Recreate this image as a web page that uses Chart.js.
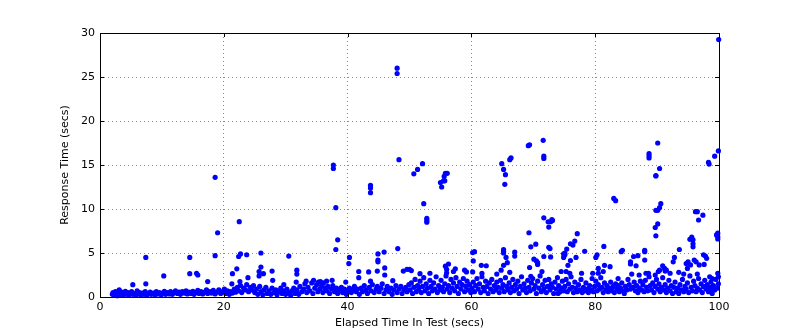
<!DOCTYPE html>
<html>
<head>
<meta charset="utf-8">
<script src="https://cdn.jsdelivr.net/npm/chart.js@4/dist/chart.umd.min.js"></script>
<style>
  body { margin: 0; background: #fff; }
</style>
</head>
<body>
<canvas id="myChart" width="800" height="330"></canvas>
<script>
// axis ticks
const xTicks = [0, 20, 40, 60, 80, 100];
const yTicks = [0, 5, 10, 15, 20, 25, 30];

// [elapsed time, response time] - the main band of quick responses
const quickRequests = [
  [2.0,0.3],[2.1,0.5],[2.3,0.2],[2.5,0.6],[2.6,0.35],[2.8,0.15],[3.0,0.45],[3.1,0.8],[3.3,0.3],[3.5,0.55],
  [3.7,0.2],[3.9,0.4],[4.1,0.65],[4.3,0.3],[4.5,0.5],[4.7,0.25],[4.9,0.45],[5.1,0.6],[5.3,0.3],[5.6,0.4],
  [5.8,0.2],[6.0,0.7],[6.2,0.35],[6.4,0.5],[6.6,0.25],[6.9,0.45],[7.1,0.3],[7.3,0.6],[7.6,0.2],[7.8,0.4],
  [8.1,0.55],[8.3,0.3],[8.6,0.45],[8.9,0.25],[9.1,0.6],[9.4,0.35],[9.6,0.5],[9.9,0.25],[10.1,0.45],[10.4,0.65],
  [10.6,0.3],[10.9,0.5],[11.2,0.35],[11.4,0.6],[11.7,0.3],[12.0,0.5],[12.2,0.7],[12.5,0.4],[12.8,0.55],[13.0,0.3],
  [13.3,0.6],[13.6,0.45],[13.9,0.7],[14.1,0.35],[14.4,0.55],[14.7,0.4],[15.0,0.65],[15.2,0.3],[15.5,0.5],[15.8,0.75],
  [16.0,0.4],[16.3,0.6],[16.6,0.35],[16.9,0.55],[17.2,0.8],[17.4,0.4],[17.7,0.6],[18.0,0.45],[18.3,0.75],[18.6,0.35],
  [18.9,0.55],[19.2,0.8],[19.5,0.4],[19.8,0.6],
  [20.1,0.9],[20.3,0.4],[20.6,0.7],[20.9,0.3],[21.1,0.6],[21.4,0.45],[21.7,0.9],[21.9,0.55],[22.2,1.1],[22.4,0.7],
  [22.7,1.3],[22.9,0.5],[23.2,1.0],[23.5,0.8],[23.7,1.4],[24.0,0.6],[24.3,1.1],[24.5,0.8],[24.8,1.3],[25.0,0.5],
  [25.3,0.9],[25.5,0.3],[25.8,1.2],[26.0,0.6],[26.3,0.25],[26.5,0.8],[26.8,1.1],[27.0,0.4],[27.3,0.7],[27.6,0.3],
  [27.8,1.0],[28.1,0.5],[28.4,0.8],[28.6,0.25],[28.9,0.6],[29.2,1.0],[29.4,0.4],[29.7,0.7],[30.0,0.3],[30.2,0.9],
  [30.5,0.5],[30.8,0.2],[31.0,0.7],[31.3,1.0],[31.5,0.4],[31.8,0.8],[32.1,0.3],[32.3,1.2],[32.6,0.6],[32.9,0.9],
  [33.1,1.5],[33.3,1.8],[33.4,0.5],[33.6,1.1],[33.9,0.7],[34.2,1.6],[34.4,0.4],[34.5,1.9],[34.7,1.0],[35.0,1.4],
  [35.2,0.6],[35.3,1.7],[35.5,0.9],[35.8,1.3],[36.0,0.5],[36.1,1.6],[36.3,1.0],[36.6,0.7],[36.8,1.2],[37.1,0.4],
  [37.4,0.9],[37.6,1.3],[37.9,0.6],[38.2,1.0],[38.4,0.4],[38.7,0.8],[39.0,1.1],[39.2,0.5],[39.5,0.9],[39.8,0.3],
  [40.0,0.7],[40.3,1.0],[40.6,0.5],[40.8,0.8],[41.1,1.2],[41.4,0.6],[41.6,0.9],[41.9,0.3],[42.2,1.0],[42.4,0.6],
  [42.7,1.3],[43.0,0.8],[43.2,0.4],[43.5,1.1],[43.8,0.7],[44.0,1.4],[44.3,0.5],[44.6,0.9],[44.8,1.2],[45.1,0.6],
  [45.4,1.0],[45.6,1.5],[45.9,0.4],[46.2,0.8],[46.4,1.2],[46.7,0.6],[47.0,1.0],[47.2,0.3],[47.5,0.8],[47.8,1.3],
  [48.0,0.5],[48.3,0.9],[48.6,1.2],[48.8,0.4],[49.1,0.8],[49.4,1.1],[49.6,0.6],[49.9,1.4],
  [50.1,0.8],[50.3,1.6],[50.5,0.4],[50.7,1.1],[50.9,2.0],[51.1,0.6],[51.3,1.3],[51.5,0.9],[51.7,1.8],[51.9,0.5],
  [52.1,1.2],[52.3,2.2],[52.5,0.7],[52.7,1.5],[52.9,1.0],[53.1,0.4],[53.3,1.9],[53.5,1.2],[53.7,0.7],[53.9,1.6],
  [54.1,0.9],[54.3,2.3],[54.5,0.5],[54.7,1.3],[54.9,0.8],[55.1,1.9],[55.3,1.1],[55.5,0.6],[55.7,1.5],[55.9,2.4],
  [56.1,0.9],[56.3,1.3],[56.5,0.5],[56.7,2.0],[56.9,1.0],[57.1,1.6],[57.3,0.7],[57.5,2.2],[57.7,1.2],[57.9,0.4],
  [58.1,1.7],[58.3,0.9],[58.5,1.4],[58.7,2.1],[58.9,0.6],[59.1,1.2],[59.3,1.8],[59.5,0.8],[59.7,1.4],[59.9,0.5],
  [60.1,1.0],[60.3,1.7],[60.5,0.6],[60.7,1.3],[60.9,2.1],[61.1,0.9],[61.3,1.5],[61.5,0.5],[61.7,2.3],[61.9,1.1],
  [62.1,0.7],[62.3,1.8],[62.5,1.2],[62.7,0.4],[62.9,1.6],[63.1,0.9],[63.3,2.0],[63.5,0.6],[63.7,1.3],[63.9,0.8],
  [64.1,1.7],[64.3,1.1],[64.5,0.5],[64.7,1.9],[64.9,1.0],[65.1,1.4],[65.3,0.6],[65.5,2.2],[65.7,1.2],[65.9,0.8],
  [66.1,1.6],[66.3,0.5],[66.5,1.1],[66.7,2.0],[66.9,0.7],[67.1,1.4],[67.3,0.9],[67.5,1.8],[67.7,0.4],[67.9,1.2],
  [68.1,2.3],[68.3,0.8],[68.5,1.5],[68.7,1.0],[68.9,0.5],[69.1,1.9],[69.3,1.1],[69.5,0.7],[69.7,1.6],[69.9,2.1],
  [70.1,0.9],[70.3,1.3],[70.5,0.4],[70.7,1.8],[70.9,1.0],[71.1,2.4],[71.3,0.6],[71.5,1.4],[71.7,0.9],[71.9,1.9],
  [72.1,0.5],[72.3,1.2],[72.5,2.0],[72.7,0.8],[72.9,1.5],[73.1,1.1],[73.3,0.4],[73.5,1.7],[73.7,0.9],[73.9,2.2],
  [74.1,1.3],[74.3,0.6],[74.5,1.0],[74.7,1.8],[74.9,0.7],
  [75.1,1.2],[75.3,2.0],[75.5,0.6],[75.7,1.5],[75.9,0.9],[76.1,2.3],[76.3,1.1],[76.5,0.5],[76.7,1.7],[76.9,1.0],
  [77.1,0.6],[77.3,1.4],[77.5,0.8],[77.7,2.0],[77.9,0.5],[78.1,1.1],[78.3,0.7],[78.5,1.6],[78.7,0.9],[78.9,0.5],
  [79.1,1.3],[79.3,0.8],[79.5,2.1],[79.7,0.6],[79.9,1.2],[80.1,1.8],[80.3,0.7],[80.5,1.4],[80.7,0.9],[80.9,2.2],
  [81.1,1.1],[81.3,0.5],[81.5,1.6],[81.7,0.8],[81.9,1.3],[82.1,0.6],[82.3,1.0],[82.5,1.7],[82.7,0.7],[82.9,1.2],
  [83.1,0.5],[83.3,1.5],[83.5,0.9],[83.7,1.3],[83.9,0.6],[84.1,1.0],[84.3,1.6],[84.5,0.7],[84.7,0.4],[84.9,1.2],
  [85.1,0.8],[85.3,2.0],[85.5,1.4],[85.7,0.9],[85.9,2.6],[86.1,1.1],[86.3,1.7],[86.5,0.7],[86.7,1.3],[86.9,0.5],
  [87.1,1.0],[87.3,1.8],[87.5,0.8],[87.7,1.4],[87.9,0.6],[88.1,1.9],[88.3,1.1],[88.5,0.7],[88.7,2.3],[88.9,1.3],
  [89.1,0.8],[89.3,1.6],[89.5,0.5],[89.7,1.2],[89.9,2.0],[90.1,0.9],[90.3,1.5],[90.5,0.6],[90.7,1.1],[90.9,2.2],
  [91.1,0.8],[91.3,1.4],[91.5,0.5],[91.7,1.0],[91.9,1.9],[92.1,0.7],[92.3,1.3],[92.5,0.4],[92.7,1.1],[92.9,1.7],
  [93.1,0.6],[93.3,1.0],[93.5,0.4],[93.7,1.4],[93.9,0.8],[94.1,2.0],[94.3,0.6],[94.5,1.2],[94.7,0.9],[94.9,1.6],
  [95.1,0.5],[95.3,2.4],[95.5,1.1],[95.7,0.7],[95.9,1.8],[96.1,1.3],[96.3,0.6],[96.5,1.0],[96.7,2.1],[96.9,0.8],
  [97.1,1.5],[97.3,0.5],[97.5,1.2],[97.7,1.9],[97.9,0.9],[98.1,1.4],[98.3,0.6],[98.5,1.1],[98.7,1.7],[98.9,0.4],
  [99.1,1.3],[99.3,0.8],[99.5,2.0],[99.7,1.0],[99.9,1.5]
];

// [elapsed time, response time] - slower responses above the band
const slowRequests = [
  [5.3,1.4],[7.4,1.5],[7.4,4.5],[10.3,2.4],[14.5,2.65],[14.5,4.5],[15.6,2.7],[15.8,2.5],[17.4,1.75],[18.6,4.7],
  [18.6,13.6],[19.0,7.3],[21.3,1.5],[21.4,2.65],[22.1,3.2],[22.4,4.6],[22.5,8.56],[22.6,1.75],[22.7,4.9],[23.7,4.8],
  [23.9,2.2],[25.7,2.9],[25.7,2.4],[26.0,3.4],[26.0,5.0],[26.4,2.65],[27.8,2.95],[27.9,1.9],[29.7,1.4],[30.5,4.65],
  [31.7,1.7],[31.8,3.05],[31.8,2.6],[35.6,1.75],[36.6,1.8],[37.5,1.9],[37.7,15.0],[37.7,14.6],[38.1,10.15],[38.1,5.4],
  [38.4,6.5],[39.7,1.7],[40.2,3.8],[40.3,4.5],[41.8,2.9],[41.8,2.2],[43.4,2.85],[43.7,12.7],[43.7,12.4],[43.7,11.85],
  [43.7,1.8],[44.8,2.95],[44.9,4.9],[44.9,4.2],[44.9,4.0],[45.9,5.1],[46.0,3.3],[46.0,2.5],[47.3,1.85],[48.0,26.0],
  [48.0,25.4],[48.1,5.5],[48.3,15.6],[49.0,2.95],[49.6,3.15],
  [50.0,3.15],[50.3,3.0],[50.7,14.0],[51.3,14.5],[51.7,2.65],[52.1,15.15],[52.3,10.6],[52.8,8.95],[52.8,8.7],[52.8,8.5],
  [53.3,2.7],[55.0,13.0],[55.2,12.5],[55.5,13.2],[55.7,13.2],[55.6,13.7],[55.8,14.05],[56.1,14.05],[55.8,3.5],[56.0,3.15],
  [56.0,2.75],[56.3,3.75],[57.1,2.9],[57.4,3.2],[58.9,3.05],[59.2,2.85],[60.2,2.85],[60.2,5.05],[60.3,4.1],[60.5,5.15],
  [61.6,3.6],[61.7,2.7],[62.4,3.55],[64.1,2.6],[64.8,3.05],[64.9,15.15],[65.2,14.5],[65.4,12.8],[65.5,13.9],[65.2,5.2],
  [65.2,5.4],[65.2,5.0],[65.2,3.6],[65.6,4.5],[65.8,3.9],[66.2,2.8],[66.2,15.6],[66.4,15.8],[67.0,5.1],[67.0,4.65],
  [69.2,17.2],[69.4,17.3],[69.3,7.3],[69.4,3.35],[69.6,2.35],[69.6,5.7],[70.1,4.3],[70.4,6.0],[70.5,4.1],[70.7,3.9],
  [70.7,3.7],[71.4,2.9],[71.6,17.8],[71.7,16.0],[71.7,15.75],[71.7,9.0],[71.7,4.6],[72.4,8.55],[72.5,7.95],[72.5,5.65],
  [72.7,5.5],[72.8,8.55],[72.8,4.55],[73.0,8.8],[73.1,8.7],[74.0,0.4],[74.3,0.6],[74.5,2.9],[74.9,4.9],[74.9,4.5],
  [75.1,5.0],[75.1,4.8],[75.3,2.9],[75.4,5.45],[75.6,3.6],[75.9,2.7],[76.0,6.05],[76.0,4.15],[76.4,5.9],[76.7,6.35],
  [76.9,4.5],[77.1,7.2],[77.8,2.7],[78.3,5.2],[79.6,2.7],[80.1,4.5],[80.3,4.8],[80.5,3.25],[80.5,2.7],[81.3,2.9],
  [81.4,5.75],[81.5,3.6],[82.4,3.45],[83.0,11.2],[83.3,10.95],[83.7,2.1],[84.2,5.15],[84.4,5.3],[85.7,4.0],[85.7,3.75],
  [86.2,4.6],[86.6,3.55],[86.9,4.7],[87.1,2.5],[88.0,5.3],[88.0,5.15],[88.0,4.2],[88.2,2.7],[88.6,2.7],[88.7,16.3],
  [88.7,16.05],[88.7,15.8],[89.7,2.5],[89.7,7.9],[89.8,13.8],[89.8,13.75],[89.8,9.85],[89.8,6.95],[90.1,17.5],[90.1,9.85],
  [90.1,8.3],[90.2,2.9],[90.4,14.6],[90.4,10.15],[90.4,3.05],[90.6,10.6],[90.9,3.55],[91.2,3.25],[91.3,2.95],[91.5,3.05],
  [92.1,2.7],[92.6,4.0],[92.8,4.5],[93.5,2.8],[93.6,5.4],[94.3,2.6],[94.7,3.8],[94.9,3.25],[95.0,4.0],[95.3,6.55],
  [95.4,3.65],[95.6,6.8],[95.8,6.05],[95.8,5.7],[95.8,6.5],[96.0,4.2],[96.2,9.7],[96.3,4.0],[96.5,9.7],[96.5,2.6],
  [96.7,8.75],[96.8,3.65],[97.4,9.3],[97.5,4.8],[97.6,3.7],[97.8,4.65],[98.0,4.4],[98.3,15.3],[98.4,15.1],[98.5,2.3],
  [98.9,2.1],[98.9,0.7],[99.2,1.0],[99.3,16.0],[99.6,7.05],[99.8,7.25],[99.8,6.85],[99.8,6.6],[99.8,2.7],[99.9,2.3],
  [99.9,16.6],[99.95,29.25]
];

const points = quickRequests.concat(slowRequests).map(p => ({ x: p[0], y: p[1] }));

Chart.defaults.font.family = "'DejaVu Sans', sans-serif";
Chart.defaults.font.size = 11;
Chart.defaults.color = "#000";

// matplotlib style frame with ticks pointing inwards
const framePlugin = {
  id: "frame",
  afterDatasetsDraw(chart) {
    const ctx = chart.ctx;
    const a = chart.chartArea;
    const xs = chart.scales.x;
    const ys = chart.scales.y;
    ctx.save();
    ctx.strokeStyle = "#000";
    ctx.lineWidth = 1;
    ctx.beginPath();
    xTicks.forEach(v => {
      const px = Math.round(xs.getPixelForValue(v)) + 0.5;
      ctx.moveTo(px, a.bottom);
      ctx.lineTo(px, a.bottom - 4);
      ctx.moveTo(px, a.top);
      ctx.lineTo(px, a.top + 4);
    });
    yTicks.forEach(v => {
      const py = Math.round(ys.getPixelForValue(v)) + 0.5;
      ctx.moveTo(a.left, py);
      ctx.lineTo(a.left + 4, py);
      ctx.moveTo(a.right, py);
      ctx.lineTo(a.right - 4, py);
    });
    ctx.stroke();
    ctx.strokeRect(a.left + 0.5, a.top + 0.5, a.right - a.left, a.bottom - a.top);
    ctx.restore();
  },
};

const config = {
  type: "scatter",
  data: {
    datasets: [
      {
        label: "Response Time",
        data: points,
        backgroundColor: "#0000ff",
        borderColor: "#0000ff",
        borderWidth: 0,
        pointRadius: 2.6,
        clip: 4,
      },
    ],
  },
  options: {
    responsive: false,
    animation: false,
    layout: {
      padding: { top: 33, right: 81, left: 0, bottom: 0 },
    },
    plugins: {
      legend: { display: false },
      tooltip: { enabled: false },
    },
    scales: {
      x: {
        type: "linear",
        min: 0,
        max: 100,
        afterFit(scale) {
          scale.height = 33;
        },
        afterBuildTicks(scale) {
          scale.ticks = xTicks.map(v => ({ value: v }));
        },
        grid: { color: "#8a8a8a", drawTicks: false },
        border: { display: false, dash: [1, 3] },
        ticks: { padding: 4, maxRotation: 0 },
        title: {
          display: true,
          text: "Elapsed Time In Test (secs)",
          padding: { top: 0, bottom: 0 },
        },
      },
      y: {
        type: "linear",
        min: 0,
        max: 30,
        afterFit(scale) {
          scale.width = 100;
        },
        afterBuildTicks(scale) {
          scale.ticks = yTicks.map(v => ({ value: v }));
        },
        grid: { color: "#8a8a8a", drawTicks: false },
        border: { display: false, dash: [1, 3] },
        ticks: { padding: 5 },
        title: {
          display: true,
          text: "Response Time (secs)",
          padding: { top: 59, bottom: 0 },
        },
      },
    },
  },
  plugins: [framePlugin],
};

const myChart = new Chart(document.getElementById("myChart"), config);
</script>
</body>
</html>
